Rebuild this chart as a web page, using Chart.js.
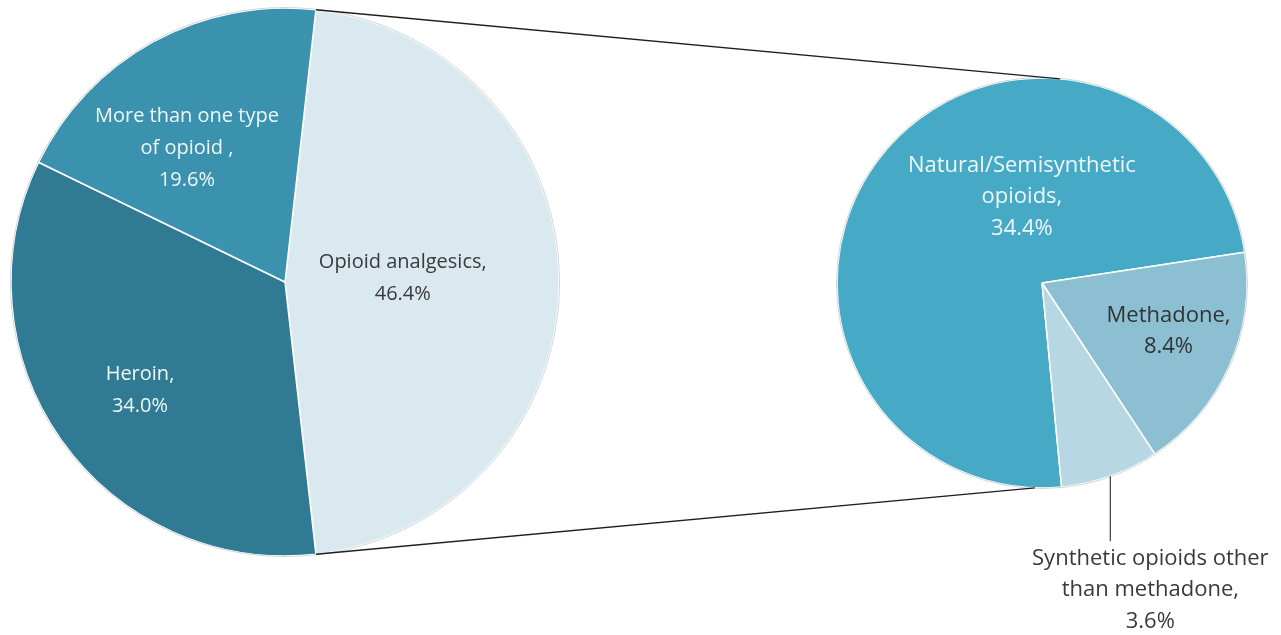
<!DOCTYPE html>
<html><head><meta charset="utf-8">
<script src="https://cdn.jsdelivr.net/npm/chart.js@4.4.1/dist/chart.umd.min.js"></script>
<style>
html,body{margin:0;padding:0;background:#fff;}
#wrap{position:relative;width:1281px;height:635px;}
#wrap canvas{position:absolute;left:0;top:0;}
</style></head><body>
<div id="wrap"><canvas id="leftPie" width="1281" height="635"></canvas><canvas id="rightPie" width="1281" height="635"></canvas></div>
<script>
// ---- data ----
const mainCategories = ['Opioid analgesics', 'Heroin', 'More than one type of opioid'];
const mainValues = [46.4, 34.0, 19.6];
const mainLabelNames = [['Opioid analgesics,'], ['Heroin,'], ['More than one type', 'of opioid ,']];

const subCategories = ['Natural/Semisynthetic opioids', 'Methadone', 'Synthetic opioids other than methadone'];
const subValues = [34.4, 8.4, 3.6];
const subLabelNames = [['Natural/Semisynthetic', 'opioids,'], ['Methadone,'], ['Synthetic opioids other', 'than methadone,']];

// ---- helpers ----
const deg = Math.PI / 180;
function labelLines(names, values, i) { return names[i].concat([values[i].toFixed(1) + '%']); }
function drawBlock(ctx, lines, x, y, color, font, lh) {
  ctx.save();
  ctx.font = font; ctx.fillStyle = color; ctx.textAlign = 'center'; ctx.textBaseline = 'middle';
  const n = lines.length;
  lines.forEach((t, k) => ctx.fillText(t, x, y + (k - (n - 1) / 2) * lh));
  ctx.restore();
}

const sliceLabels = {
  id: 'sliceLabels',
  afterDatasetsDraw(chart, args, opts) {
    const ctx = chart.ctx;
    const arcs = chart.getDatasetMeta(0).data;
    const ds = chart.data.datasets[0];
    const a0 = arcs[0];
    ctx.save();
    ctx.beginPath();
    ctx.arc(a0.x, a0.y, a0.outerRadius + 0.5, 0, Math.PI * 2);
    ctx.strokeStyle = 'rgba(120,140,150,0.35)';
    ctx.lineWidth = 1;
    ctx.stroke();
    ctx.restore();
    arcs.forEach((arc, i) => {
      const mid = (arc.startAngle + arc.endAngle) / 2;
      const p = opts.place[i];
      const lines = labelLines(opts.names, ds.data, i);
      if (p.outside) {
        const sx = arc.x + arc.outerRadius * Math.cos(mid);
        const sy = arc.y + arc.outerRadius * Math.sin(mid);
        const ey = sy + p.leader;
        ctx.save();
        ctx.beginPath(); ctx.moveTo(sx, sy); ctx.lineTo(sx, ey);
        ctx.strokeStyle = '#3a3a3a'; ctx.lineWidth = 1.2; ctx.stroke();
        ctx.restore();
        drawBlock(ctx, lines, sx + p.dx, ey + 17 + (lines.length - 1) / 2 * opts.lineHeight, opts.colors[i], opts.font, opts.lineHeight);
      } else {
        const a = mid + p.off * deg;
        const r = p.frac * arc.outerRadius;
        drawBlock(ctx, lines, arc.x + r * Math.cos(a), arc.y + r * Math.sin(a), opts.colors[i], opts.font, opts.lineHeight);
      }
    });
  }
};

Chart.defaults.animation = false;

const leftChart = new Chart(document.getElementById('leftPie'), {
  type: 'pie',
  data: {
    labels: mainCategories,
    datasets: [{
      data: mainValues,
      backgroundColor: ['#dae8f0', '#307b93', '#3a92ae'],
      borderColor: '#ffffff',
      borderWidth: 1.5
    }]
  },
  options: {
    responsive: false,
    animation: false,
    rotation: 90 - 180 * mainValues[0] / mainValues.reduce((a, b) => a + b, 0),
    radius: 274,
    layout: { padding: { left: 11, right: 722, top: 8, bottom: 79 } },
    plugins: {
      legend: { display: false }, tooltip: { enabled: false },
      sliceLabels: {
        names: mainLabelNames,
        font: '20px "Open Sans", sans-serif',
        lineHeight: 32,
        colors: ['#3a3a3a', '#eef7fa', '#eef7fa'],
        place: [{ off: -2, frac: 0.43 }, { off: -1.4, frac: 0.66 }, { off: -7.4, frac: 0.606 }]
      }
    }
  },
  plugins: [sliceLabels]
});

const connectors = {
  id: 'connectors',
  afterDraw(chart) {
    const ctx = chart.ctx;
    const L = leftChart.getDatasetMeta(0).data[0];
    const R = chart.getDatasetMeta(0).data[0];
    const p1 = { x: L.x + L.outerRadius * Math.cos(L.startAngle), y: L.y + L.outerRadius * Math.sin(L.startAngle) };
    const p2 = { x: L.x + L.outerRadius * Math.cos(L.endAngle), y: L.y + L.outerRadius * Math.sin(L.endAngle) };
    const t = -Math.PI / 2 + 5 * deg, b = -Math.PI / 2 + 182 * deg;
    const q1 = { x: R.x + R.outerRadius * Math.cos(t), y: R.y + R.outerRadius * Math.sin(t) };
    const q2 = { x: R.x + R.outerRadius * Math.cos(b), y: R.y + R.outerRadius * Math.sin(b) };
    ctx.save();
    ctx.strokeStyle = '#1e1e1e'; ctx.lineWidth = 1.3;
    ctx.beginPath(); ctx.moveTo(p1.x, p1.y); ctx.lineTo(q1.x, q1.y); ctx.stroke();
    ctx.beginPath(); ctx.moveTo(p2.x, p2.y); ctx.lineTo(q2.x, q2.y); ctx.stroke();
    ctx.restore();
  }
};

const rightChart = new Chart(document.getElementById('rightPie'), {
  type: 'pie',
  data: {
    labels: subCategories,
    datasets: [{
      data: subValues,
      backgroundColor: ['#46a9c6', '#8cbfd2', '#b6d7e3'],
      borderColor: '#ffffff',
      borderWidth: 1.5
    }]
  },
  options: {
    responsive: false,
    animation: false,
    rotation: 174.5,
    radius: 205,
    layout: { padding: { left: 837, right: 34, top: 78, bottom: 147 } },
    plugins: {
      legend: { display: false }, tooltip: { enabled: false },
      sliceLabels: {
        names: subLabelNames,
        font: '22px "Open Sans", sans-serif',
        lineHeight: 31.5,
        colors: ['#eef7fa', '#333333', '#3a3a3a'],
        place: [{ off: 38.9, frac: 0.43 }, { off: -3.2, frac: 0.66 }, { outside: true, leader: 65, dx: 40 }]
      }
    }
  },
  plugins: [sliceLabels, connectors]
});
</script>
</body></html>
